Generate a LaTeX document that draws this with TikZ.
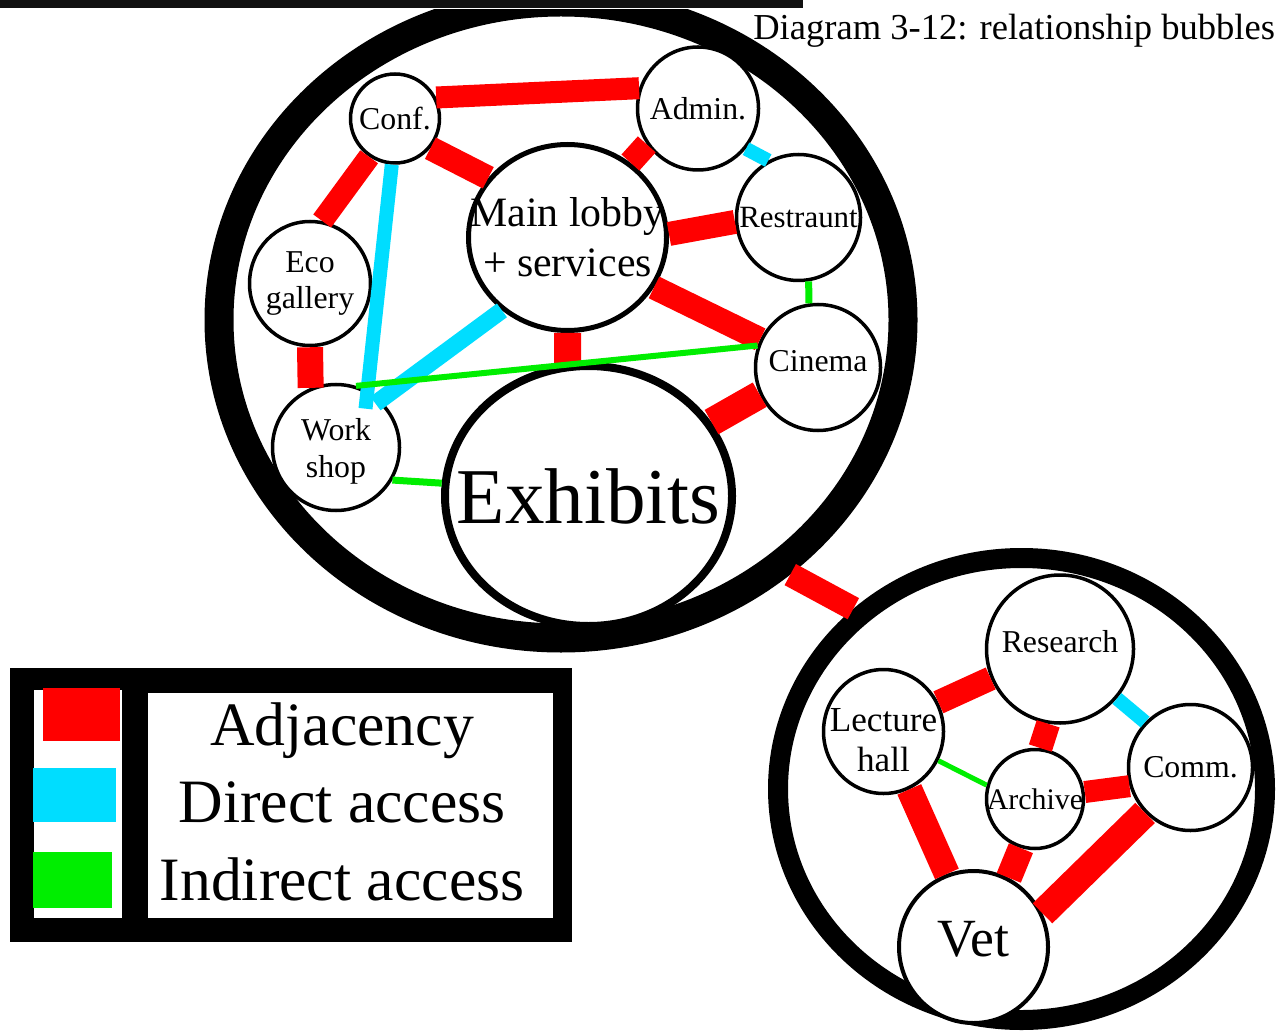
\documentclass[tikz,border=0pt]{standalone}
\usepackage{fontspec}
\setmainfont{Liberation Serif}
\usetikzlibrary{shapes.geometric}
\newdimen\px
\px=0.02cm
\definecolor{adjred}{HTML}{FF0000}
\definecolor{dircyan}{HTML}{00DDFF}
\definecolor{indgreen}{HTML}{00EE00}
\definecolor{barblack}{HTML}{111111}
\newcommand\zb[1]{\makebox[0pt][c]{#1}}
\tikzset{
  zone/.style={ellipse, draw=black, inner sep=0pt},
  room/.style={ellipse, draw=black, fill=white, line width=3.5\px, inner sep=0pt, align=center, text=black,
               font=\fontsize{18.1pt}{21pt}\selectfont},
  sz/.style 2 args={minimum width=#1\px, minimum height=#2\px},
  adj/.style={draw=adjred, line width=24\px},
  dir/.style={draw=dircyan, line width=14\px},
  ind/.style={draw=indgreen, line width=6\px},
  legtext/.style={inner sep=0pt, anchor=base, font=\fontsize{35.1pt}{40pt}\selectfont},
}
\begin{document}
\begin{tikzpicture}[x=0.02cm, y=-0.02cm]
\useasboundingbox (0,0) rectangle (1280,1033);
\fill[white] (0,0) rectangle (1280,1033);

% zones
\node[zone, line width=29\px, sz={684}{636}] (zoneA) at (561,320) {};
\node[zone, line width=20\px, sz={487}{462}] (zoneB) at (1021.5,789) {};

% top strip
\fill[white] (300,0) rectangle (800,9.5);
\fill[barblack] (0,0) rectangle (803,8);
\node[inner sep=0pt, anchor=base west, font=\fontsize{20.8pt}{24pt}\selectfont] (title) at (753,40) {Diagram 3-12: relationship bubbles};

% rooms
\node[room, sz={89}{89}] (conf) at (395,118.5) {\zb{Conf.}};
\node[room, sz={121}{123}] (admin) at (698,108.5) {\zb{Admin.}};
\node[room, line width=5\px, sz={198}{186}, font=\fontsize{23.8pt}{28.3pt}\selectfont] (lobby) at (567.5,237.5) {\zb{Main lobby}\\\zb{+ services}};
\node[room, sz={124}{126}, font=\fontsize{17.6pt}{21pt}\selectfont] (rest) at (798.5,217.5) {\zb{Restraunt}};
\node[room, sz={121}{124}] (eco) at (310,283.5) {\zb{Eco}\\\zb{gallery}};
\node[room, sz={125}{126}, text height=8\px, text depth=0pt] (cinema) at (818,367.5) {\zb{Cinema}};
\node[room, sz={127}{126}, label={[inner sep=0pt, align=center, font=\fontsize{18.1pt}{21pt}\selectfont, yshift=-4\px]center:Work\\shop}] (work) at (336,447.5) {};
\node[room, line width=8\px, sz={287}{260}, font=\fontsize{45pt}{50pt}\selectfont] (exhibits) at (588.5,496) {\zb{Exhibits}};
\node[room, sz={147}{148}, text height=7\px, text depth=0pt] (research) at (1060,649) {\zb{Research}};
\node[room, sz={120}{124}, label={[inner sep=0pt, align=center, font=\fontsize{20pt}{22.7pt}\selectfont, yshift=-9\px]center:Lecture\\hall}] (lecture) at (883.5,731.5) {};
\node[room, sz={97}{99}, font=\fontsize{17pt}{20pt}\selectfont] (archive) at (1035,799) {\zb{Archive}};
\node[room, sz={124}{126}] (comm) at (1190.5,767.5) {\zb{Comm.}};
\node[room, line width=4\px, sz={149}{152}, text height=18\px, text depth=0pt, font=\fontsize{30.6pt}{34pt}\selectfont] (vet) at (973.5,947) {\zb{Vet}};

% adjacency
\draw[adj, line width=22\px] (conf.27) -- (admin.161);
\draw[adj, line width=22\px] (conf.-124) -- (eco.79);
\draw[adj] (conf.-40) -- (lobby.143);
\draw[adj] (admin.-145) -- (lobby.50);
\draw[adj] (lobby.2) -- (rest.184);
\draw[adj] (lobby.-30) -- (cinema.154);
\draw[adj, line width=27\px] (lobby.-90) -- (exhibits.99);
\draw[adj, line width=26\px] (eco.-90) -- (work.113);
\draw[adj, line width=28\px] (cinema.205) -- (exhibits.31);
\draw[adj] (zoneA.-48) -- (zoneB.133);
\draw[adj] (lecture.28) -- (research.203);
\draw[adj] (research.-99) -- (archive.84);
\draw[adj, line width=22\px] (archive.8) -- (comm.197);
\draw[adj, line width=26\px] (lecture.-66) -- (vet.110);
\draw[adj, line width=26\px] (archive.-106) -- (vet.63);
\draw[adj, line width=28\px] (comm.225) -- (vet.26);

% direct access
\draw[dir] (admin.-40) -- (rest.118);
\draw[dir, shorten >=-18\px] (conf.-94) -- (work.61);
\draw[dir, line width=17\px, shorten >=-6\px] (lobby.-132) -- (work.47);
\draw[dir] (research.-41) -- (comm.135);

% indirect access
\draw[ind, line width=7\px] (rest.-81) -- (cinema.98);
\draw[ind] (work.72) -- (cinema.160);
\draw[ind, line width=7\px] (work.-30) -- (exhibits.175);
\draw[ind, line width=5\px] (lecture.-28) -- (archive.164);

% legend
\fill[black] (10,668) rectangle (572,942);
\fill[white] (34,690) rectangle (122,918);
\fill[white] (148,693) rectangle (553,918);
\fill[adjred] (43,688) rectangle (120,741);
\fill[dircyan] (33,768) rectangle (116,822);
\fill[indgreen] (33,852) rectangle (112,908);
\node[legtext] (lgadj) at (342,745) {Adjacency};
\node[legtext] (lgdir) at (342,822) {Direct access};
\node[legtext] (lgind) at (342,900) {Indirect access};
\end{tikzpicture}
\end{document}
